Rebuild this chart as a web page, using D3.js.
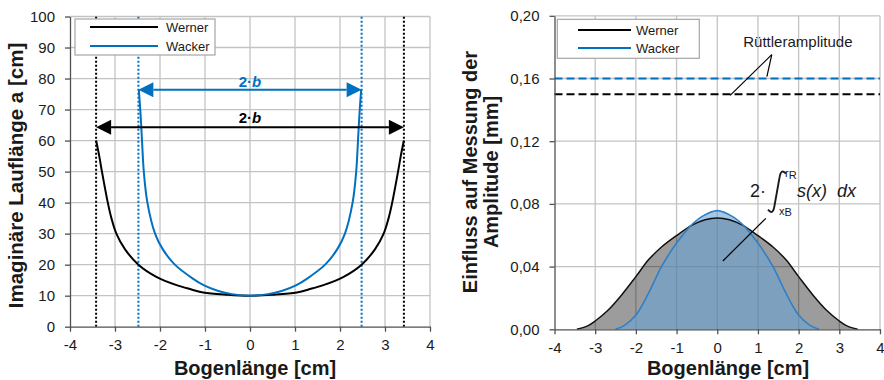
<!DOCTYPE html>
<html><head><meta charset="utf-8">
<script src="https://cdn.jsdelivr.net/npm/d3@7"></script>
<style>
body{margin:0;background:#fff}
svg{display:block;font-family:"Liberation Sans",Arial,sans-serif}
</style></head><body>
<svg id="c" width="884" height="380"></svg>
<script>
// ---------------- data ----------------
const xTicks = [-4, -3, -2, -1, 0, 1, 2, 3, 4];
const laufTicks = [0, 10, 20, 30, 40, 50, 60, 70, 80, 90, 100];
const ampTicks = [0, 0.04, 0.08, 0.12, 0.16, 0.20];
const seriesNames = ["Werner", "Wacker"];

// left chart: imaginary run length a [cm] over arc length [cm]
const wernerXA = [-3.42, -3.35, -3.29, -3.16, -3.08, -2.97, -2.78, -2.48, -2.07, -1.63, -1.3, -1.04, -0.5, 0,
                  0.5, 1.04, 1.3, 1.63, 2.07, 2.48, 2.78, 2.97, 3.08, 3.16, 3.29, 3.35, 3.42];
const wernerA  = [60, 55, 50, 40, 35, 30, 25, 20, 16, 13.4, 12, 11, 10.3, 10,
                  10.3, 11, 12, 13.4, 16, 20, 25, 30, 35, 40, 50, 55, 60];
const wackerXA = [-2.47, -2.43, -2.40, -2.36, -2.28, -2.11, -1.94, -1.67, -1.27, -1.02, -0.72, -0.4, 0,
                  0.4, 0.72, 1.02, 1.27, 1.67, 1.94, 2.11, 2.28, 2.36, 2.40, 2.43, 2.47];
const wackerA  = [76.4, 68, 60, 50, 40, 30, 25, 20, 15.5, 13.3, 11.6, 10.5, 10,
                  10.5, 11.6, 13.3, 15.5, 20, 25, 30, 40, 50, 60, 68, 76.4];
const halfB = [3.42, 2.48];          // b for Werner, Wacker
const arrowA = [64.3, 76.4];         // height of the 2·b arrows

// right chart: influence on amplitude measurement [mm]
const wernerXS = [-3.45, -3.2, -3.0, -2.68, -2.35, -2.0, -1.69, -1.37, -1.0, -0.63, -0.3, 0,
                  0.3, 0.63, 1.0, 1.37, 1.69, 2.0, 2.35, 2.68, 3.0, 3.2, 3.45];
const wernerS  = [0, 0.002, 0.0053, 0.0123, 0.0219, 0.0336, 0.0443, 0.0525, 0.0598, 0.0663, 0.0699, 0.0710,
                  0.0699, 0.0663, 0.0598, 0.0525, 0.0443, 0.0336, 0.0219, 0.0123, 0.0053, 0.002, 0];
const wackerXS = [-2.5, -2.27, -2.0, -1.69, -1.37, -1.0, -0.63, -0.38, 0,
                  0.38, 0.63, 1.0, 1.37, 1.69, 2.0, 2.27, 2.5];
const wackerS  = [0, 0.0027, 0.0091, 0.023, 0.040, 0.055, 0.0666, 0.0719, 0.0757,
                  0.0719, 0.0666, 0.055, 0.040, 0.023, 0.0091, 0.0027, 0];
const ruettlerAmp = [0.15, 0.16];    // Werner, Wacker

// ---------------- drawing ----------------
const svg = d3.select("#c");
const BLUE = "#0070C0", GRID = "#c3c3c3", AXC = "#505050", TXT = "#1a1a1a";
const colors = ["#000000", BLUE];
const CURVE = d3.curveCatmullRom.alpha(0.5);

const xL = d3.scaleLinear([-4, 4], [70, 430]);
const yL = d3.scaleLinear([0, 100], [326.7, 16.5]);
const xR = d3.scaleLinear([-4, 4], [554.5, 880]);
const yR = d3.scaleLinear([0, 0.2], [329.3, 15.8]);

function grid(g, x, y, yT) {
  g.append("g").selectAll("line").data(yT.slice(1)).join("line")
    .attr("x1", x(-4)).attr("x2", x(4)).attr("y1", d => y(d)).attr("y2", d => y(d))
    .attr("stroke", GRID).attr("stroke-width", 1.3);
  g.append("g").selectAll("line").data(xTicks.slice(1)).join("line")
    .attr("x1", d => x(d)).attr("x2", d => x(d)).attr("y1", y(yT[0])).attr("y2", y(yT[yT.length - 1]))
    .attr("stroke", GRID).attr("stroke-width", 1.3);
}
function axes(g, x, y, yT, fmt) {
  const xa = g.append("g").attr("transform", `translate(0,${y(0)})`)
    .call(d3.axisBottom(x).tickValues(xTicks).tickFormat(d => String(d)).tickSize(5).tickSizeOuter(0).tickPadding(8));
  const ya = g.append("g").attr("transform", `translate(${x(-4)},0)`)
    .call(d3.axisLeft(y).tickValues(yT).tickFormat(fmt).tickSize(5).tickSizeOuter(0).tickPadding(10));
  [xa, ya].forEach(a => {
    a.select(".domain").attr("stroke", AXC).attr("stroke-width", 1.3);
    a.selectAll(".tick line").attr("stroke", AXC).attr("stroke-width", 1.3);
    a.selectAll("text").attr("font-family", '"Liberation Sans", Arial, sans-serif')
      .attr("font-size", 15).attr("fill", TXT);
  });
}
function legend(g, x0, y0, w, h, lx0, lx1, tx, rows) {
  g.append("rect").attr("x", x0).attr("y", y0).attr("width", w).attr("height", h)
    .attr("fill", "#fff").attr("stroke", "#a6a6a6").attr("stroke-width", 1.2);
  seriesNames.forEach((n, i) => {
    g.append("line").attr("x1", lx0).attr("x2", lx1).attr("y1", rows[i]).attr("y2", rows[i])
      .attr("stroke", colors[i]).attr("stroke-width", 2);
    g.append("text").attr("x", tx).attr("y", rows[i] + 4.6).attr("font-size", 13).attr("fill", TXT).text(n);
  });
}

// ===== left chart =====
const gL = svg.append("g");
grid(gL, xL, yL, laufTicks);

// dotted b-limits
halfB.forEach((b, i) => {
  [-b, b].forEach(v => {
    gL.append("line").attr("x1", xL(v)).attr("x2", xL(v)).attr("y1", yL(0)).attr("y2", yL(100))
      .attr("stroke", colors[i]).attr("stroke-width", 2).attr("stroke-dasharray", "2,2");
  });
});

const lineL = (xs, ys) => d3.line().x((d, i) => xL(xs[i])).y(d => yL(d)).curve(CURVE)(ys);
gL.append("path").attr("d", lineL(wernerXA, wernerA)).attr("fill", "none").attr("stroke", "#000").attr("stroke-width", 2);
gL.append("path").attr("d", lineL(wackerXA, wackerA)).attr("fill", "none").attr("stroke", BLUE).attr("stroke-width", 2);

// 2·b arrows
halfB.forEach((b, i) => {
  const y = yL(arrowA[i]), xa = xL(-b), xb = xL(b), L = 15, H = 7.5;
  gL.append("line").attr("x1", xa + L).attr("x2", xb - L).attr("y1", y).attr("y2", y)
    .attr("stroke", colors[i]).attr("stroke-width", 2);
  gL.append("path").attr("d", `M${xa},${y}L${xa + L},${y - H}L${xa + L},${y + H}Z`).attr("fill", colors[i]);
  gL.append("path").attr("d", `M${xb},${y}L${xb - L},${y - H}L${xb - L},${y + H}Z`).attr("fill", colors[i]);
  const t = gL.append("text").attr("x", xL(0)).attr("y", y - (i === 0 ? 4.4 : 2.6))
    .attr("text-anchor", "middle").attr("font-size", 15).attr("font-weight", "bold").attr("fill", colors[i]);
  t.append("tspan").text("2·");
  t.append("tspan").attr("font-style", "italic").text("b");
});

legend(gL, 75, 19, 140, 36, 90, 158, 166, [27, 46]);
axes(gL, xL, yL, laufTicks, d3.format("d"));

gL.append("text").attr("transform", `translate(23,175.5) rotate(-90)`).attr("text-anchor", "middle")
  .attr("font-size", 20.5).attr("font-weight", "bold").attr("fill", TXT).text("Imaginäre Lauflänge a [cm]");
gL.append("text").attr("x", 255).attr("y", 375).attr("text-anchor", "middle")
  .attr("font-size", 20).attr("font-weight", "bold").attr("fill", TXT).text("Bogenlänge [cm]");

// ===== right chart =====
const gR = svg.append("g");
grid(gR, xR, yR, ampTicks);

const areaR = (xs, ys) => d3.area().x((d, i) => xR(xs[i])).y0(yR(0)).y1(d => Math.min(yR(0), yR(d))).curve(CURVE)(ys);
const lineR = (xs, ys) => d3.line().x((d, i) => xR(xs[i])).y(d => yR(d)).curve(CURVE)(ys);
gR.append("path").attr("d", areaR(wernerXS, wernerS)).attr("fill", "rgba(0,0,0,0.39)");
gR.append("path").attr("d", areaR(wackerXS, wackerS)).attr("fill", "rgba(105,163,213,0.6)");
gR.append("path").attr("d", lineR(wernerXS, wernerS)).attr("fill", "none").attr("stroke", "#111").attr("stroke-width", 1.5);
gR.append("path").attr("d", lineR(wackerXS, wackerS)).attr("fill", "none").attr("stroke", "#2f80c8").attr("stroke-width", 1.6);

// vibrator amplitude lines
ruettlerAmp.forEach((v, i) => {
  gR.append("line").attr("x1", xR(-4)).attr("x2", xR(4)).attr("y1", yR(v)).attr("y2", yR(v))
    .attr("stroke", colors[i]).attr("stroke-width", 2).attr("stroke-dasharray", "8,4");
});

// annotation: Rüttleramplitude
gR.append("text").attr("x", xR(0.64)).attr("y", yR(0.1803)).attr("font-size", 15).attr("fill", TXT).text("Rüttleramplitude");
[[0.317, 0.1492], [1.22, 0.1612]].forEach(p => {
  gR.append("line").attr("x1", xR(1.34)).attr("y1", yR(0.1752)).attr("x2", xR(p[0])).attr("y2", yR(p[1]))
    .attr("stroke", "#000").attr("stroke-width", 1.2);
});

// annotation: integral formula
const ax = xR(0.805), ay = yR(0.0846);
const fm = gR.append("g").attr("fill", TXT);
fm.append("text").attr("x", ax).attr("y", ay).attr("font-size", 18).text("2·");
const ix = ax + 27, iy = ay - 5;
fm.append("path").attr("d", `M${ix + 9},${iy - 18} Q${ix + 4},${iy - 24} ${ix + 2.5},${iy - 14} L${ix - 2.5},${iy + 14} Q${ix - 4},${iy + 24} ${ix - 9},${iy + 18}`)
  .attr("fill", "none").attr("stroke", TXT).attr("stroke-width", 1.9);
const up = fm.append("text").attr("x", ax + 35).attr("y", ay - 20).attr("font-size", 11);
up.append("tspan").text("r");
up.append("tspan").attr("dy", 2.5).text("R");
const lo = fm.append("text").attr("x", ax + 29).attr("y", ay + 18).attr("font-size", 11);
lo.append("tspan").text("x");
lo.append("tspan").attr("dy", 1.5).text("B");
fm.append("text").attr("x", ax + 47).attr("y", ay).attr("font-size", 18).attr("font-style", "italic").text("s(x)");
fm.append("text").attr("x", ax + 87).attr("y", ay).attr("font-size", 18).attr("font-style", "italic").text("dx");
gR.append("line").attr("x1", xR(1.194)).attr("y1", yR(0.0708)).attr("x2", xR(0.138)).attr("y2", yR(0.0436))
  .attr("stroke", "#000").attr("stroke-width", 1.2);

legend(gR, 557.3, 19.3, 142, 39, 578, 631, 636, [30, 48]);
axes(gR, xR, yR, ampTicks, d => d.toFixed(2).replace(".", ","));

gR.append("text").attr("transform", `translate(477,172) rotate(-90)`).attr("text-anchor", "middle")
  .attr("font-size", 20).attr("font-weight", "bold").attr("fill", TXT).text("Einfluss auf Messung der");
gR.append("text").attr("transform", `translate(498,172) rotate(-90)`).attr("text-anchor", "middle")
  .attr("font-size", 20).attr("font-weight", "bold").attr("fill", TXT).text("Amplitude [mm]");
gR.append("text").attr("x", 728).attr("y", 375).attr("text-anchor", "middle")
  .attr("font-size", 20).attr("font-weight", "bold").attr("fill", TXT).text("Bogenlänge [cm]");
</script>
</body></html>
